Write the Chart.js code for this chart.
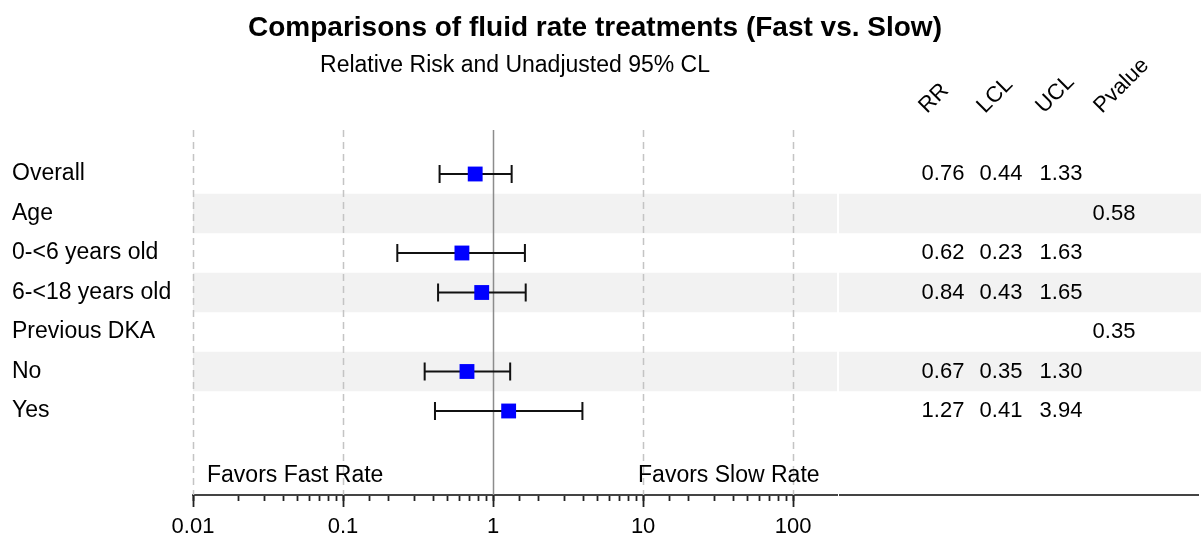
<!DOCTYPE html>
<html>
<head>
<meta charset="utf-8">
<script src="https://cdn.jsdelivr.net/npm/chart.js@4.4.1/dist/chart.umd.min.js"></script>
<style>
  html, body { margin: 0; padding: 0; background: #fff; }
  #wrap { width: 1201px; height: 539px; position: relative; }
</style>
</head>
<body>
<div id="wrap"><canvas id="chart" width="1201" height="539"></canvas></div>
<script>
const rowLabels = ['Overall', 'Age', '0-<6 years old', '6-<18 years old', 'Previous DKA', 'No', 'Yes'];
const rr  = [0.76, null, 0.62, 0.84, null, 0.67, 1.27];
const lcl = [0.44, null, 0.23, 0.43, null, 0.35, 0.41];
const ucl = [1.33, null, 1.63, 1.65, null, 1.30, 3.94];
const pvalue = [null, 0.58, null, null, 0.35, null, null];
const shadedRows = [1, 3, 5];
const tickValues = [0.01, 0.1, 1, 10, 100];
const tickLabels = ['0.01', '0.1', '1', '10', '100'];
const tableHeaders = ['RR', 'LCL', 'UCL', 'Pvalue'];

const FONT = "'Liberation Sans', Arial, sans-serif";

document.addEventListener('DOMContentLoaded', () => {
    const points = [];
    rr.forEach((v, i) => { if (v !== null) points.push({ x: v, y: i }); });

    const forestPlugin = {
        id: 'forest',
        beforeDraw(chart) {
            const ctx = chart.ctx;
            const y = chart.scales.y;
            const area = chart.chartArea;
            ctx.save();
            ctx.fillStyle = '#f2f2f2';
            shadedRows.forEach(i => {
                const top = y.getPixelForValue(i - 0.5);
                const bot = y.getPixelForValue(i + 0.5);
                ctx.fillRect(area.left, top, area.right - area.left, bot - top);
                ctx.fillRect(area.right + 2, top, chart.width - area.right - 2, bot - top);
            });
            ctx.restore();
        },
        beforeDatasetsDraw(chart) {
            const ctx = chart.ctx;
            const x = chart.scales.x;
            const y = chart.scales.y;
            const area = chart.chartArea;
            ctx.save();
            // reference lines
            tickValues.forEach(v => {
                const px = Math.round(x.getPixelForValue(v)) + 0.5;
                ctx.beginPath();
                if (v === 1) {
                    ctx.setLineDash([]);
                    ctx.strokeStyle = '#8c8c8c';
                } else {
                    ctx.setLineDash([7, 5]);
                    ctx.strokeStyle = '#c4c4c4';
                }
                ctx.lineWidth = 1.5;
                ctx.moveTo(px, area.top);
                ctx.lineTo(px, area.bottom);
                ctx.stroke();
            });
            ctx.setLineDash([]);
            // error bars
            ctx.strokeStyle = '#111';
            ctx.lineWidth = 2;
            rr.forEach((v, i) => {
                if (v === null) return;
                const py = y.getPixelForValue(i);
                const x1 = x.getPixelForValue(lcl[i]);
                const x2 = x.getPixelForValue(ucl[i]);
                ctx.beginPath();
                ctx.moveTo(x1, py); ctx.lineTo(x2, py);
                ctx.moveTo(x1, py - 9); ctx.lineTo(x1, py + 9);
                ctx.moveTo(x2, py - 9); ctx.lineTo(x2, py + 9);
                ctx.stroke();
            });
            ctx.restore();
        },
        afterDraw(chart) {
            const ctx = chart.ctx;
            const x = chart.scales.x;
            const y = chart.scales.y;
            const area = chart.chartArea;
            ctx.save();
            // axis extension under the table
            ctx.strokeStyle = '#444';
            ctx.lineWidth = 2;
            ctx.beginPath();
            ctx.moveTo(area.right + 2, area.bottom);
            ctx.lineTo(chart.width - 2, area.bottom);
            ctx.stroke();
            // longer major ticks
            ctx.strokeStyle = '#222';
            ctx.lineWidth = 1.8;
            tickValues.forEach(v => {
                const px = Math.round(x.getPixelForValue(v)) + 0.5;
                ctx.beginPath();
                ctx.moveTo(px, area.bottom);
                ctx.lineTo(px, area.bottom + 12);
                ctx.stroke();
            });

            ctx.fillStyle = '#000';
            // title and subtitle
            ctx.textBaseline = 'middle';
            ctx.textAlign = 'center';
            ctx.font = 'bold 28px ' + FONT;
            ctx.fillText('Comparisons of fluid rate treatments (Fast vs. Slow)', 595, 28);
            ctx.font = '23px ' + FONT;
            ctx.fillText('Relative Risk and Unadjusted 95% CL', (area.left + area.right) / 2, 66);

            // row labels
            ctx.textAlign = 'left';
            ctx.font = '23px ' + FONT;
            rowLabels.forEach((lab, i) => {
                ctx.fillText(lab, 12, y.getPixelForValue(i));
            });

            // table values
            const colX = [943, 1001, 1061, 1114];
            ctx.textAlign = 'center';
            ctx.font = '22px ' + FONT;
            rr.forEach((v, i) => {
                const py = y.getPixelForValue(i);
                if (v !== null) {
                    ctx.fillText(v.toFixed(2), colX[0], py);
                    ctx.fillText(lcl[i].toFixed(2), colX[1], py);
                    ctx.fillText(ucl[i].toFixed(2), colX[2], py);
                }
                if (pvalue[i] !== null) ctx.fillText(pvalue[i].toFixed(2), colX[3], py);
            });

            // rotated headers
            const headX = [927, 985, 1044, 1102];
            ctx.textAlign = 'left';
            ctx.textBaseline = 'alphabetic';
            ctx.font = '22px ' + FONT;
            tableHeaders.forEach((h, k) => {
                ctx.save();
                ctx.translate(headX[k], 114);
                ctx.rotate(-Math.PI / 4);
                ctx.fillText(h, 0, 0);
                ctx.restore();
            });

            // favors labels
            ctx.font = '23px ' + FONT;
            ctx.fillText('Favors Fast Rate', x.getPixelForValue(0.01) + 14, 482);
            ctx.fillText('Favors Slow Rate', x.getPixelForValue(1) + 145, 482);
            ctx.restore();
        }
    };

    const ctx = document.getElementById('chart').getContext('2d');
    new Chart(ctx, {
        type: 'scatter',
        data: {
            datasets: [{
                data: points,
                pointStyle: 'rect',
                pointRadius: 10.5,
                pointHoverRadius: 10.5,
                backgroundColor: '#0000ff',
                borderColor: '#0000ff',
                borderWidth: 0
            }]
        },
        options: {
            responsive: false,
            animation: false,
            events: [],
            layout: { padding: { left: 193, right: 364, top: 130, bottom: 0 } },
            plugins: {
                legend: { display: false },
                title: { display: false },
                tooltip: { enabled: false }
            },
            scales: {
                x: {
                    type: 'logarithmic',
                    min: 0.01,
                    max: 196,
                    afterBuildTicks: (scale) => {
                        scale.ticks = scale.ticks.filter(t => t.value <= 100.0001);
                    },
                    afterFit: (scale) => { scale.height = 44; },
                    grid: {
                        drawOnChartArea: false,
                        drawTicks: true,
                        tickLength: 6,
                        tickColor: '#222',
                        tickWidth: 1.8
                    },
                    border: { color: '#444', width: 2 },
                    ticks: {
                        autoSkip: false,
                        maxRotation: 0,
                        padding: 15,
                        color: '#000',
                        font: { size: 22, family: FONT, lineHeight: 1 },
                        callback: (v) => {
                            const k = tickValues.findIndex(t => Math.abs(t - v) < t * 1e-6);
                            return k >= 0 ? tickLabels[k] : '';
                        }
                    }
                },
                y: {
                    type: 'linear',
                    display: false,
                    reverse: true,
                    min: -1.114,
                    max: 8.127
                }
            }
        },
        plugins: [forestPlugin]
    });
});
</script>
</body>
</html>
